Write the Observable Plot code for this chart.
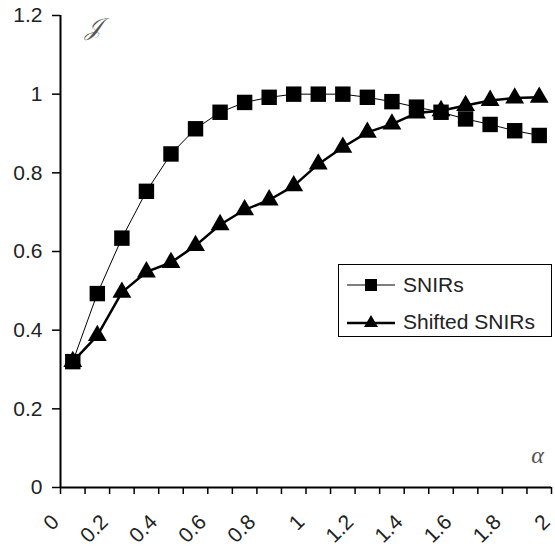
<!DOCTYPE html>
<html>
<head>
<meta charset="utf-8">
<script src="https://cdn.jsdelivr.net/npm/d3@7"></script>
<script src="https://cdn.jsdelivr.net/npm/@observablehq/plot@0.6"></script>
<style>
  body { margin: 0; background: #fff; }
  #wrap { position: relative; width: 555px; height: 550px; }
  #legend {
    position: absolute; left: 338px; top: 264px; width: 212px; height: 71px;
    border: 1.5px solid #000; background: #fff;
    font-family: "Liberation Sans", Arial, sans-serif; font-size: 21px; color: #222;
  }
  .row { position: absolute; left: 8px; height: 24px; display: flex; align-items: center; }
  .row svg { margin-right: 8px; }
</style>
</head>
<body>
<div id="wrap"></div>
<script>
// Data
const alpha = [0.05,0.15,0.25,0.35,0.45,0.55,0.65,0.75,0.85,0.95,1.05,1.15,1.25,1.35,1.45,1.55,1.65,1.75,1.85,1.95];
const snirs = [0.32,0.493,0.634,0.753,0.848,0.912,0.954,0.979,0.992,1.0,1.0,1.0,0.992,0.981,0.967,0.954,0.937,0.923,0.907,0.895];
const shifted = [0.32,0.386,0.496,0.548,0.572,0.615,0.668,0.706,0.731,0.767,0.822,0.865,0.903,0.924,0.952,0.958,0.971,0.984,0.99,0.992];
const seriesNames = ["SNIRs", "Shifted SNIRs"];
const yTicks = [0,0.2,0.4,0.6,0.8,1,1.2];
const xTicks = [0,0.1,0.2,0.3,0.4,0.5,0.6,0.7,0.8,0.9,1,1.1,1.2,1.3,1.4,1.5,1.6,1.7,1.8,1.9,2];
const xLabelTicks = [0,0.2,0.4,0.6,0.8,1,1.2,1.4,1.6,1.8,2];

const d1 = alpha.map((a, i) => ({a, v: snirs[i]}));
const d2 = alpha.map((a, i) => ({a, v: shifted[i]}));
const fmt = d => String(+(+d).toFixed(1));

const chart = Plot.plot({
  width: 555, height: 550,
  marginLeft: 60, marginRight: 4, marginTop: 15, marginBottom: 63,
  style: {fontFamily: "Liberation Sans, Arial, sans-serif", fontSize: "21px", color: "#222", background: "#fff"},
  x: {domain: [0, 2]},
  y: {domain: [0, 1.2]},
  marks: [
    Plot.axisY({ticks: yTicks, tickFormat: fmt, tickSize: 8, tickPadding: 10, label: null, fontSize: 21, stroke: "#000", strokeWidth: 1.5}),
    Plot.axisX({ticks: xTicks, tickFormat: () => "", tickSize: 7, label: null, stroke: "#000", strokeWidth: 1.5}),
    Plot.axisX({ticks: xLabelTicks, tickFormat: fmt, tickSize: 0, tickPadding: 0, tickRotate: -45, dx: -5, dy: 31, label: null, fontSize: 21}),
    Plot.ruleX([0], {stroke: "#000", strokeWidth: 2}),
    Plot.ruleY([0], {stroke: "#000", strokeWidth: 2}),
    Plot.line(d1, {x: "a", y: "v", stroke: "#000", strokeWidth: 1}),
    Plot.dot(d1, {x: "a", y: "v", symbol: "square", r: 8.7, fill: "#000", stroke: "none"}),
    Plot.line(d2, {x: "a", y: "v", stroke: "#000", strokeWidth: 2.5}),
    Plot.dot(d2, {x: "a", y: "v", symbol: "triangle", r: 7, fill: "#000", stroke: "none"}),
    Plot.text(["\u{1D4A5}"], {frameAnchor: "top-left", dx: 24, dy: 2, fontSize: 24, fontFamily: "DejaVu Serif, serif", fontStyle: "italic", fill: "#555"}),
    Plot.text(["α"], {frameAnchor: "bottom-right", dx: -14, dy: -25, textAnchor: "middle", fontSize: 24, fontFamily: "Liberation Serif, serif", fontStyle: "italic", fill: "#555"})
  ]
});

const wrap = document.getElementById("wrap");
wrap.appendChild(chart);

const legend = document.createElement("div");
legend.id = "legend";
legend.innerHTML = `
  <div class="row" style="top:8px">
    <svg width="48" height="20"><line x1="0" y1="10" x2="48" y2="10" stroke="#000" stroke-width="1.2"/><rect x="18" y="4" width="12" height="12" fill="#000"/></svg>
    <span>${seriesNames[0]}</span>
  </div>
  <div class="row" style="top:45px">
    <svg width="48" height="20"><line x1="0" y1="11" x2="48" y2="11" stroke="#000" stroke-width="2.5"/><path d="M24,3 L31,15 L17,15 Z" fill="#000"/></svg>
    <span>${seriesNames[1]}</span>
  </div>`;
wrap.appendChild(legend);
</script>
</body>
</html>
